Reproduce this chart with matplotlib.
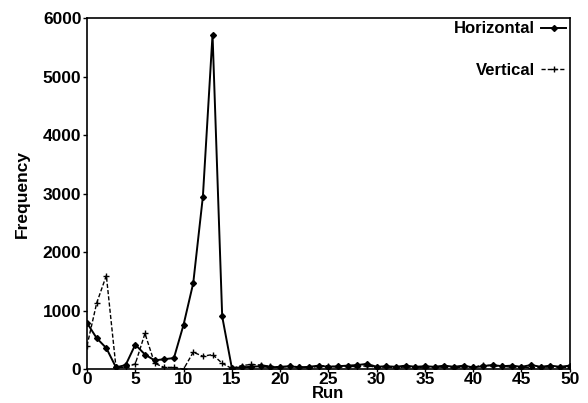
import matplotlib
matplotlib.use("Agg")
import matplotlib.pyplot as plt

runs = list(range(51))
horizontal = [790, 530, 360, 30, 70, 420, 250, 150, 170, 190, 760, 1470, 2950, 5720, 900, 20,
              30, 40, 50, 30, 40, 50, 30, 40, 60, 40, 50, 60, 70, 90, 40, 50, 40, 60, 40, 50,
              40, 60, 40, 60, 30, 50, 70, 50, 60, 40, 70, 40, 60, 40, 60]
vertical = [400, 1130, 1600, 30, 30, 90, 610, 100, 30, 30, 0, 290, 220, 250, 100, 10,
            60, 80, 70, 50, 30, 50, 40, 20, 50, 60, 30, 50, 40, 60, 30, 40, 20, 40, 30, 20,
            40, 30, 20, 40, 30, 70, 60, 50, 30, 40, 20, 40, 30, 40, 20]

yticks = [0, 1000, 2000, 3000, 4000, 5000, 6000]
xticks = list(range(0, 51, 5))

plt.rcParams['font.family'] = ['Liberation Sans', 'DejaVu Sans']
plt.rcParams['font.weight'] = 'bold'

fig = plt.figure(figsize=(5.88, 4.03), dpi=100)
ax = fig.add_axes([0.148, 0.084, 0.821, 0.871])

ax.plot(runs, horizontal, '-', color='black', lw=1.4, marker='D', ms=3, label='Horizontal')
ax.plot(runs, vertical, '--', color='black', lw=1.0, marker='+', ms=4, mew=1.0,
        dashes=(3, 1.5), label='Vertical')

ax.set_xlim(0, 50)
ax.set_ylim(0, 6000)
ax.set_xticks(xticks)
ax.set_yticks(yticks)
ax.tick_params(axis='x', labelsize=12.5, length=2, width=1, direction='out', pad=0)
ax.tick_params(axis='y', labelsize=12.5, length=3, width=1, direction='out', pad=1)
for s in ax.spines.values():
    s.set_linewidth(1.2)

ax.set_xlabel('Run', fontsize=12, fontweight='bold', labelpad=-1)
ax.set_ylabel('Frequency', fontsize=12.5, fontweight='bold', labelpad=9)

leg = ax.legend(loc='upper right', frameon=False, fontsize=12, markerfirst=False,
                handlelength=1.5, handletextpad=0.4, labelspacing=1.6,
                borderaxespad=0.1, borderpad=0.1)

fig.savefig('out.png', dpi=100)
